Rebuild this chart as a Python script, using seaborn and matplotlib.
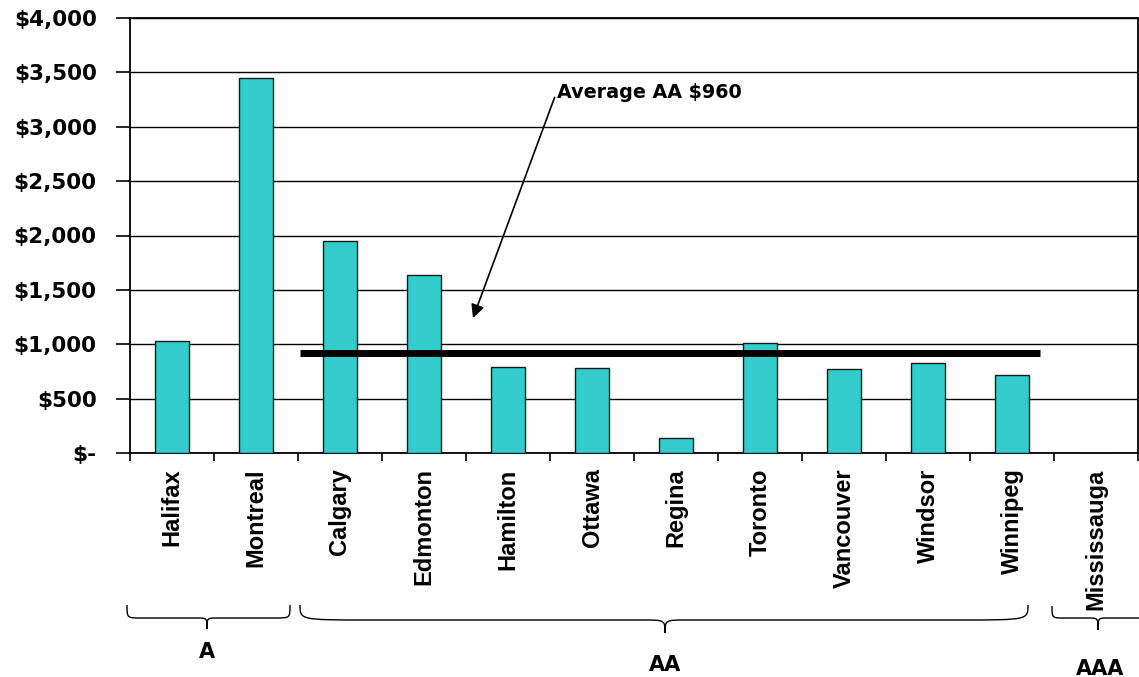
import matplotlib
matplotlib.use("Agg")
import matplotlib.pyplot as plt
import seaborn as sns
import pandas as pd
from matplotlib.path import Path
from matplotlib.patches import PathPatch
from matplotlib.transforms import Affine2D
from matplotlib import font_manager as fm

# ---- data ----
cities = ["Halifax", "Montreal", "Calgary", "Edmonton", "Hamilton", "Ottawa",
          "Regina", "Toronto", "Vancouver", "Windsor", "Winnipeg", "Mississauga"]
costs = [1030, 3450, 1950, 1640, 790, 780, 140, 1010, 770, 830, 720, 0]
groups = ["A", "AA", "AAA"]
avg_label = "Average AA $960"
avg_value = 920
yticks = [0, 500, 1000, 1500, 2000, 2500, 3000, 3500, 4000]
ytick_labels = ["$-" if v == 0 else f"${v:,}" for v in yticks]

df = pd.DataFrame({"city": cities, "cost": costs})

sns.set_style("white")
plt.rcParams["font.family"] = ["DejaVu Sans"]
plt.rcParams["text.color"] = "black"
plt.rcParams["xtick.color"] = "black"
plt.rcParams["ytick.color"] = "black"

# pick a bold Arial-like face that is really installed
label_font = None
for fam in ["Liberation Sans", "Arimo", "Roboto", "Noto Sans"]:
    for f in fm.fontManager.ttflist:
        if f.name == fam and f.weight in (700, "bold") and f.style == "normal":
            label_font = fm.FontProperties(fname=f.fname, size=17)
            break
    if label_font is not None:
        break
if label_font is None:
    label_font = fm.FontProperties(family="DejaVu Sans", weight="bold", size=16)

W, H = 1139, 677
fig = plt.figure(figsize=(W / 100, H / 100), dpi=100)
ax = fig.add_axes([130 / W, (H - 453) / H, 1008 / W, 435 / H])

sns.barplot(data=df, x="city", y="cost", color="#33CCCC", saturation=1,
            edgecolor="#1a1a1a", linewidth=1.0, width=0.4, ax=ax, zorder=3)

ax.set_xlim(-0.5, len(cities) - 0.5)
ax.set_ylim(0, 4000)
ax.yaxis.grid(True, color="black", linewidth=1.0, zorder=0)
ax.set_axisbelow(True)

# x ticks at category boundaries, labels at centers
ax.set_xticks([i - 0.5 for i in range(len(cities) + 1)], minor=False)
ax.set_xticklabels([])
ax.set_xticks(range(len(cities)), minor=True)
ax.tick_params(axis="x", which="major", direction="out", length=6, width=1.2,
               color="black", bottom=True)
ax.tick_params(axis="x", which="minor", length=0, pad=11)
ax.tick_params(axis="y", direction="out", length=10, width=1.2, color="black",
               left=True, pad=14)
ax.set_xticklabels(cities, minor=True, rotation=90, va="top")
for t in ax.get_xticklabels(minor=True):
    t.set_fontproperties(label_font)
    t.set_color("black")
ax.set_yticks(yticks)
ax.set_yticklabels(ytick_labels)
for t in ax.get_yticklabels():
    t.set_fontfamily("DejaVu Sans")
    t.set_fontweight("bold")
    t.set_fontsize(15.5)
    t.set_color("black")
ax.set_xlabel("")
ax.set_ylabel("")
for s in ax.spines.values():
    s.set_visible(True)
    s.set_color("black")
    s.set_linewidth(1.3)

# average line
ax.plot([1.52, 10.33], [avg_value, avg_value], color="black", linewidth=5,
        solid_capstyle="butt", zorder=5)

# annotation text and arrow
ax.text(4.58, 3264, avg_label, fontsize=13.8, fontweight="bold",
        family="DejaVu Sans", ha="left", va="baseline", zorder=6,
        color="black")
ax.annotate("", xy=(3.583, 1241), xytext=(4.555, 3270),
            arrowprops=dict(arrowstyle="-|>", color="black", lw=1.2,
                            mutation_scale=20, shrinkA=0, shrinkB=0),
            zorder=6)

# braces in pixel coordinates (y down)
pix = Affine2D().scale(1 / W, -1 / H).translate(0, 1) + fig.transFigure


def brace(x0, x1, xc, ytop, ymid, ybot, r, rt):
    verts = [
        (x0, ytop),
        (x0, ymid), (x0, ymid), (x0 + r, ymid),
        (xc - rt, ymid),
        (xc, ymid), (xc, ymid), (xc, ybot),
        (xc, ymid), (xc, ymid), (xc + rt, ymid),
        (x1 - r, ymid),
        (x1, ymid), (x1, ymid), (x1, ytop),
    ]
    codes = [Path.MOVETO,
             Path.CURVE4, Path.CURVE4, Path.CURVE4,
             Path.LINETO,
             Path.CURVE4, Path.CURVE4, Path.CURVE4,
             Path.CURVE4, Path.CURVE4, Path.CURVE4,
             Path.LINETO,
             Path.CURVE4, Path.CURVE4, Path.CURVE4]
    p = PathPatch(Path(verts, codes), facecolor="none", edgecolor="black",
                  linewidth=1.0, transform=pix, clip_on=False)
    fig.add_artist(p)


brace(127, 290, 207, 605, 618, 629, 14, 10)
brace(300, 1028, 665, 605, 620, 633, 70, 22)
brace(1052, 1150, 1098, 606, 618, 630, 12, 10)

label_pos = [(207, 652), (665, 665), (1100, 669)]
for g, (px, py) in zip(groups, label_pos):
    fig.text(px, py, g, transform=pix, ha="center", va="center", fontsize=15,
             fontweight="bold", family="DejaVu Sans", color="black")

fig.savefig("out.png", dpi=100)
